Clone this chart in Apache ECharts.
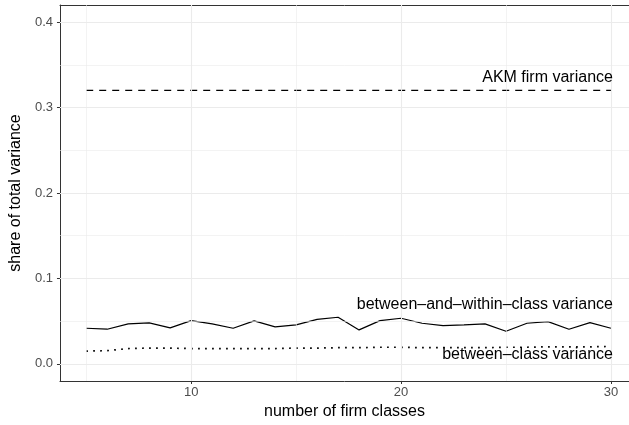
<!DOCTYPE html>
<html>
<head>
<meta charset="utf-8">
<script src="https://cdn.jsdelivr.net/npm/echarts@6/dist/echarts.min.js"></script>
<style>
html,body{margin:0;padding:0;background:#fff;}
#chart{width:629px;height:425px;}
</style>
</head>
<body>
<div id="chart"></div>
<script>
// ---- data ----
const numClasses = [5,6,7,8,9,10,11,12,13,14,15,16,17,18,19,20,21,22,23,24,25,26,27,28,29,30];
const betweenWithinShare = [0.0417,0.0406,0.0468,0.0480,0.0421,0.0507,0.0468,0.0417,0.0503,0.0433,0.0456,0.0522,0.0546,0.0398,0.0507,0.0534,0.0476,0.0448,0.0456,0.0468,0.0382,0.0476,0.0495,0.0406,0.0483,0.0417];
const betweenShare = [0.0150,0.0155,0.0180,0.0185,0.0185,0.0180,0.0180,0.0180,0.0180,0.0180,0.0185,0.0185,0.0190,0.0190,0.0195,0.0195,0.0190,0.0190,0.0190,0.0190,0.0195,0.0195,0.0200,0.0200,0.0200,0.0205];
const akmFirmShare = 0.32;
const xTickValues = [10, 20, 30];
const xMinorValues = [5, 15, 25];
const yTickValues = [0, 0.1, 0.2, 0.3, 0.4];
const yMinorValues = [0.05, 0.15, 0.25, 0.35];
const labelAKM = 'AKM firm variance';
const labelBW = 'between\u2013and\u2013within\u2013class variance';
const labelB = 'between\u2013class variance';
const labelAKMy = 0.3345;
const labelBWy = 0.069;
const labelBy = 0.0105;
const xTitle = 'number of firm classes';
const yTitle = 'share of total variance';
const xMin = 3.75, xMax = 30.86, yMin = -0.02, yMax = 0.42;

const FONT = 'Liberation Sans, Arial, Helvetica, sans-serif';
const chart = echarts.init(document.getElementById('chart'), null, {renderer: 'canvas'});

function gridLines(axisKey, vals, width) {
  return vals.map(v => ({[axisKey]: v, lineStyle: {color: '#EBEBEB', width: width, type: 'solid'}}));
}
function annot(x, y, text) {
  return {
    symbol: 'circle', symbolSize: 0,
    data: [{coord: [x, y]}],
    label: {show: true, position: 'left', distance: -2, formatter: text,
            color: '#000', fontSize: 16, fontFamily: FONT},
    silent: true
  };
}

const option = {
  animation: false,
  backgroundColor: '#fff',
  grid: {left: 57, top: 5, right: 0, bottom: 44, show: false, containLabel: false},
  xAxis: [{
    type: 'value', min: xMin, max: xMax,
    name: xTitle, nameLocation: 'middle', nameGap: 22,
    nameTextStyle: {color: '#000', fontSize: 16, fontFamily: FONT},
    axisLine: {show: true, onZero: false, lineStyle: {color: '#333', width: 1}},
    axisTick: {show: true, length: 3, customValues: xTickValues, lineStyle: {color: '#333', width: 1}},
    axisLabel: {show: true, customValues: xTickValues, margin: 5, color: '#4D4D4D', fontSize: 13, fontFamily: FONT},
    splitLine: {show: false}
  }, {
    type: 'value', min: xMin, max: xMax, position: 'top',
    axisLine: {show: true, onZero: false, lineStyle: {color: '#333', width: 1}},
    axisTick: {show: false}, axisLabel: {show: false}, splitLine: {show: false}
  }],
  yAxis: {
    type: 'value', min: yMin, max: yMax,
    name: yTitle, nameLocation: 'middle', nameGap: 33,
    nameTextStyle: {color: '#000', fontSize: 16, fontFamily: FONT},
    axisLine: {show: true, onZero: false, lineStyle: {color: '#333', width: 1}},
    axisTick: {show: true, length: 3, customValues: yTickValues, lineStyle: {color: '#333', width: 1}},
    axisLabel: {show: true, customValues: yTickValues, margin: 7, color: '#4D4D4D', fontSize: 13, fontFamily: FONT,
                formatter: v => v.toFixed(1)},
    splitLine: {show: false}
  },
  series: [
    {
      type: 'line', data: [], z: 1, silent: true,
      markLine: {
        silent: true, symbol: ['none', 'none'], label: {show: false}, animation: false,
        data: [].concat(
          gridLines('xAxis', xMinorValues, 0.6),
          gridLines('yAxis', yMinorValues, 0.6),
          gridLines('xAxis', xTickValues, 1.1),
          gridLines('yAxis', yTickValues, 1.1)
        )
      }
    },
    {
      name: 'AKM firm variance', type: 'line', z: 3, symbol: 'none',
      data: [[numClasses[0], akmFirmShare], [numClasses[numClasses.length - 1], akmFirmShare]],
      lineStyle: {color: '#000', width: 1.2, type: [7, 6]},
      markPoint: annot(30, labelAKMy, labelAKM)
    },
    {
      name: 'between-and-within', type: 'line', z: 3, symbol: 'none',
      data: numClasses.map((x, i) => [x, betweenWithinShare[i]]),
      lineStyle: {color: '#000', width: 1.2, type: 'solid'},
      markPoint: annot(30, labelBWy, labelBW)
    },
    {
      name: 'between', type: 'line', z: 3, symbol: 'none',
      data: numClasses.map((x, i) => [x, betweenShare[i]]),
      lineStyle: {color: '#000', width: 1.7, type: [1.7, 5.3]},
      markPoint: annot(30, labelBy, labelB)
    }
  ]
};
chart.setOption(option);
</script>
</body>
</html>
